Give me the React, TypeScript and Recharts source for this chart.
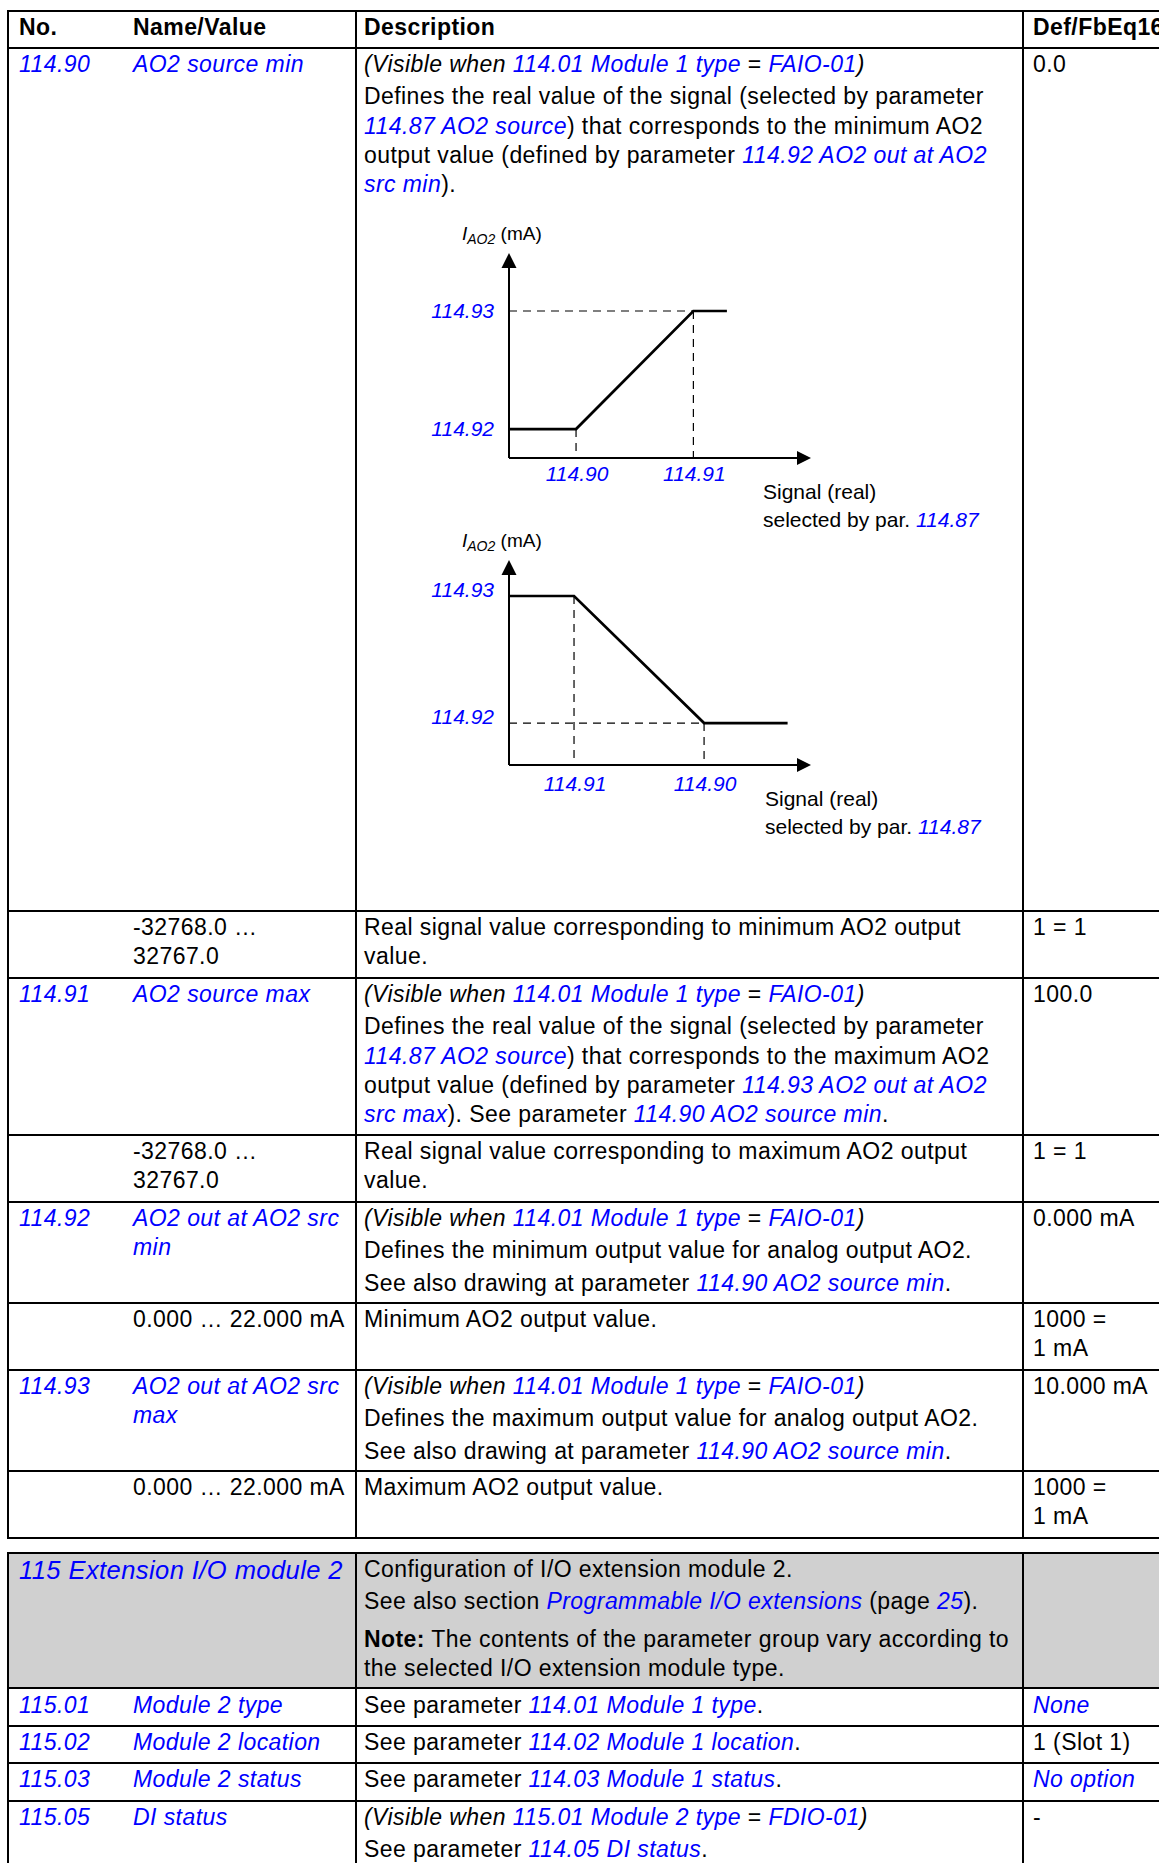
import React from 'react'
import { LineChart, Line, XAxis, YAxis, ReferenceLine, ReferenceDot } from 'recharts'

const BLUE = '#0000ff'
const GRAY = '#d0d0d0'
const FONT = '"Liberation Sans", Arial, Helvetica, sans-serif'

// axis extents (signal units / mA units of the sketch)
const X_MAX = 100
const Y_MAX = 66

// first drawing: output rises from 114.92 to 114.93
const minXs = [0, 23.2, 63.8, 75.4]
const minYs = [10, 10, 50.8, 50.8]
const minXTicks = [23.2, 63.8]
const minXTickLabels = ['114.90', '114.91']
const minYTicks = [10, 50.8]
const minYTickLabels = ['114.92', '114.93']

// second drawing: output falls from 114.93 to 114.92
const invXs = [0, 22.5, 67.5, 96.4]
const invYs = [58.4, 58.4, 14.5, 14.5]
const invXTicks = [22.5, 67.5]
const invXTickLabels = ['114.91', '114.90']
const invYTicks = [14.5, 58.4]
const invYTickLabels = ['114.92', '114.93']

const upArrow = (p: any) => (
  <polygon points={`${p.cx - 7.5},${p.cy + 1} ${p.cx},${p.cy - 14} ${p.cx + 7.5},${p.cy + 1}`} fill="#000" />
)
const rightArrow = (p: any) => (
  <polygon points={`${p.cx - 1},${p.cy - 7} ${p.cx + 13},${p.cy} ${p.cx - 1},${p.cy + 7}`} fill="#000" />
)

function SignalChart({ top, xs, ys, xTicks, xLabels, yTicks, yLabels, xDy, yDy }: any) {
  const data = xs.map((x: number, i: number) => ({ x, y: ys[i] }))
  const dash = { stroke: '#000', strokeWidth: 1.2, strokeDasharray: '8 6', ifOverflow: 'visible' as const }
  return (
    <div style={{ position: 'absolute', left: 420, top, width: 400, height: 260, letterSpacing: 0 }}>
      <LineChart width={400} height={260} data={data} margin={{ top: 27, right: 22, bottom: 12, left: 29 }}>
        <XAxis
          type="number" dataKey="x" domain={[0, X_MAX]} ticks={xTicks} interval={0} height={30}
          tickLine={false} tickSize={0} tickMargin={0}
          axisLine={{ stroke: '#000', strokeWidth: 2 }}
          tick={(p: any) => (
            <text x={p.x + 1} y={p.y + xDy} textAnchor="middle" fill={BLUE} fontStyle="italic" fontSize={21} fontFamily={FONT}>
              {xLabels[xTicks.indexOf(p.payload.value)]}
            </text>
          )}
        />
        <YAxis
          type="number" domain={[0, Y_MAX]} ticks={yTicks} interval={0} width={60}
          tickLine={false} tickSize={0} tickMargin={0}
          axisLine={{ stroke: '#000', strokeWidth: 2 }}
          tick={(p: any) => (
            <text x={p.x - 15} y={p.y + yDy} textAnchor="end" fill={BLUE} fontStyle="italic" fontSize={21} fontFamily={FONT}>
              {yLabels[yTicks.indexOf(p.payload.value)]}
            </text>
          )}
        />
        <ReferenceLine segment={[{ x: 0, y: ys[2] }, { x: xs[2], y: ys[2] }]} {...dash} />
        <ReferenceLine segment={[{ x: xs[1], y: ys[1] }, { x: xs[1], y: 0 }]} {...dash} />
        <ReferenceLine segment={[{ x: xs[2], y: ys[2] }, { x: xs[2], y: 0 }]} {...dash} />
        <ReferenceDot x={X_MAX} y={0} r={0} shape={rightArrow} ifOverflow="visible" />
        <ReferenceDot x={0} y={Y_MAX} r={0} shape={upArrow} ifOverflow="visible" />
        <Line type="linear" dataKey="y" stroke="#000" strokeWidth={2.7} dot={false} activeDot={false} isAnimationActive={false} />
      </LineChart>
    </div>
  )
}

const L = ({ children }: any) => <i style={{ color: BLUE }}>{children}</i>

function Row({ y0, y1, gray, children }: any) {
  return (
    <div style={{ position: 'absolute', left: 7, top: y0 - 1, width: 1180, height: y1 - y0 + 2, boxSizing: 'border-box', borderTop: '2px solid #000', borderLeft: '2px solid #000', borderBottom: '2px solid #000', background: gray ? GRAY : 'transparent' }}>
      <div style={{ position: 'absolute', left: 346, top: -2, bottom: -2, width: 2, background: '#000' }} />
      <div style={{ position: 'absolute', left: 1013, top: -2, bottom: -2, width: 2, background: '#000' }} />
      {children}
    </div>
  )
}

const Cell = ({ left, top = 1, children, style }: any) => (
  <div style={{ position: 'absolute', left, top, whiteSpace: 'nowrap', ...style }}>{children}</div>
)
const P = ({ gap = 3, children }: any) => <div style={{ marginTop: gap }}>{children}</div>

const visible = (mod: string, type: string) => (
  <div><i>(Visible when </i><L>{mod}</L> = <L>{type}</L><i>)</i></div>
)

function ChartLabels({ top, signalLeft }: any) {
  return (
    <>
      <div style={{ position: 'absolute', left: 462, top, fontSize: 19, lineHeight: '24px', letterSpacing: 0 }}>
        <i>I</i><i style={{ fontSize: 14, verticalAlign: -4 }}>AO2</i> (mA)
      </div>
      <div style={{ position: 'absolute', left: signalLeft, top: top + 256, fontSize: 21, lineHeight: '28px', letterSpacing: 0, whiteSpace: 'nowrap' }}>
        Signal (real)<br />selected by par. <L>114.87</L>
      </div>
    </>
  )
}

export default function App() {
  return (
    <div style={{ position: 'absolute', left: 0, top: 0, width: 1159, height: 1863, overflow: 'hidden', background: '#fff', fontFamily: FONT, fontSize: 23, lineHeight: '29.3px', letterSpacing: '0.43px', color: '#000' }}>
      <Row y0={11} y1={48}>
        <Cell left={10}><b>No.</b></Cell>
        <Cell left={124}><b>Name/Value</b></Cell>
        <Cell left={355}><b>Description</b></Cell>
        <Cell left={1024}><b>Def/FbEq16</b></Cell>
      </Row>
      <Row y0={48} y1={911}>
        <Cell left={10}><L>114.90</L></Cell>
        <Cell left={124}><L>AO2 source min</L></Cell>
        <Cell left={355}>
          {visible('114.01 Module 1 type', 'FAIO-01')}
          <P>Defines the real value of the signal (selected by parameter<br />
            <L>114.87 AO2 source</L>) that corresponds to the minimum AO2<br />
            output value (defined by parameter <L>114.92 AO2 out at AO2</L><br />
            <L>src min</L>).</P>
        </Cell>
        <Cell left={1024}>0.0</Cell>
      </Row>
      <Row y0={911} y1={978}>
        <Cell left={124}>-32768.0 …<br />32767.0</Cell>
        <Cell left={355}>Real signal value corresponding to minimum AO2 output<br />value.</Cell>
        <Cell left={1024}>1 = 1</Cell>
      </Row>
      <Row y0={978} y1={1135}>
        <Cell left={10}><L>114.91</L></Cell>
        <Cell left={124}><L>AO2 source max</L></Cell>
        <Cell left={355}>
          {visible('114.01 Module 1 type', 'FAIO-01')}
          <P>Defines the real value of the signal (selected by parameter<br />
            <L>114.87 AO2 source</L>) that corresponds to the maximum AO2<br />
            output value (defined by parameter <L>114.93 AO2 out at AO2</L><br />
            <L>src max</L>). See parameter <L>114.90 AO2 source min</L>.</P>
        </Cell>
        <Cell left={1024}>100.0</Cell>
      </Row>
      <Row y0={1135} y1={1202}>
        <Cell left={124}>-32768.0 …<br />32767.0</Cell>
        <Cell left={355}>Real signal value corresponding to maximum AO2 output<br />value.</Cell>
        <Cell left={1024}>1 = 1</Cell>
      </Row>
      <Row y0={1202} y1={1303}>
        <Cell left={10}><L>114.92</L></Cell>
        <Cell left={124}><L>AO2 out at AO2 src<br />min</L></Cell>
        <Cell left={355}>
          {visible('114.01 Module 1 type', 'FAIO-01')}
          <P>Defines the minimum output value for analog output AO2.</P>
          <P>See also drawing at parameter <L>114.90 AO2 source min</L>.</P>
        </Cell>
        <Cell left={1024}>0.000 mA</Cell>
      </Row>
      <Row y0={1303} y1={1370}>
        <Cell left={124}>0.000 … 22.000 mA</Cell>
        <Cell left={355}>Minimum AO2 output value.</Cell>
        <Cell left={1024}>1000 =<br />1 mA</Cell>
      </Row>
      <Row y0={1370} y1={1471}>
        <Cell left={10}><L>114.93</L></Cell>
        <Cell left={124}><L>AO2 out at AO2 src<br />max</L></Cell>
        <Cell left={355}>
          {visible('114.01 Module 1 type', 'FAIO-01')}
          <P>Defines the maximum output value for analog output AO2.</P>
          <P>See also drawing at parameter <L>114.90 AO2 source min</L>.</P>
        </Cell>
        <Cell left={1024}>10.000 mA</Cell>
      </Row>
      <Row y0={1471} y1={1538}>
        <Cell left={124}>0.000 … 22.000 mA</Cell>
        <Cell left={355}>Maximum AO2 output value.</Cell>
        <Cell left={1024}>1000 =<br />1 mA</Cell>
      </Row>

      <Row y0={1553} y1={1688} gray>
        <Cell left={10} top={2} style={{ fontSize: 25.5 }}><L>115 Extension I/O module 2</L></Cell>
        <Cell left={355}>
          <div>Configuration of I/O extension module 2.</div>
          <P>See also section <L>Programmable I/O extensions</L> (page <L>25</L>).</P>
          <P gap={8}><b>Note:</b> The contents of the parameter group vary according to<br />
            the selected I/O extension module type.</P>
        </Cell>
      </Row>
      <Row y0={1688} y1={1726}>
        <Cell left={10} top={2}><L>115.01</L></Cell>
        <Cell left={124} top={2}><L>Module 2 type</L></Cell>
        <Cell left={355} top={2}>See parameter <L>114.01 Module 1 type</L>.</Cell>
        <Cell left={1024} top={2}><L>None</L></Cell>
      </Row>
      <Row y0={1726} y1={1763}>
        <Cell left={10}><L>115.02</L></Cell>
        <Cell left={124}><L>Module 2 location</L></Cell>
        <Cell left={355}>See parameter <L>114.02 Module 1 location</L>.</Cell>
        <Cell left={1024}>1 (Slot 1)</Cell>
      </Row>
      <Row y0={1763} y1={1801}>
        <Cell left={10}><L>115.03</L></Cell>
        <Cell left={124}><L>Module 2 status</L></Cell>
        <Cell left={355}>See parameter <L>114.03 Module 1 status</L>.</Cell>
        <Cell left={1024}><L>No option</L></Cell>
      </Row>
      <Row y0={1801} y1={1900}>
        <Cell left={10}><L>115.05</L></Cell>
        <Cell left={124}><L>DI status</L></Cell>
        <Cell left={355}>
          {visible('115.01 Module 2 type', 'FDIO-01')}
          <P>See parameter <L>114.05 DI status</L>.</P>
        </Cell>
        <Cell left={1024}>-</Cell>
      </Row>

      <ChartLabels top={222} signalLeft={763} />
      <SignalChart top={240} xs={minXs} ys={minYs} xTicks={minXTicks} xLabels={minXTickLabels}
        yTicks={minYTicks} yLabels={minYTickLabels} xDy={22.7} yDy={7.3} />
      <ChartLabels top={529} signalLeft={765} />
      <SignalChart top={547} xs={invXs} ys={invYs} xTicks={invXTicks} xLabels={invXTickLabels}
        yTicks={invYTicks} yLabels={invYTickLabels} xDy={25.7} yDy={1} />
    </div>
  )
}
